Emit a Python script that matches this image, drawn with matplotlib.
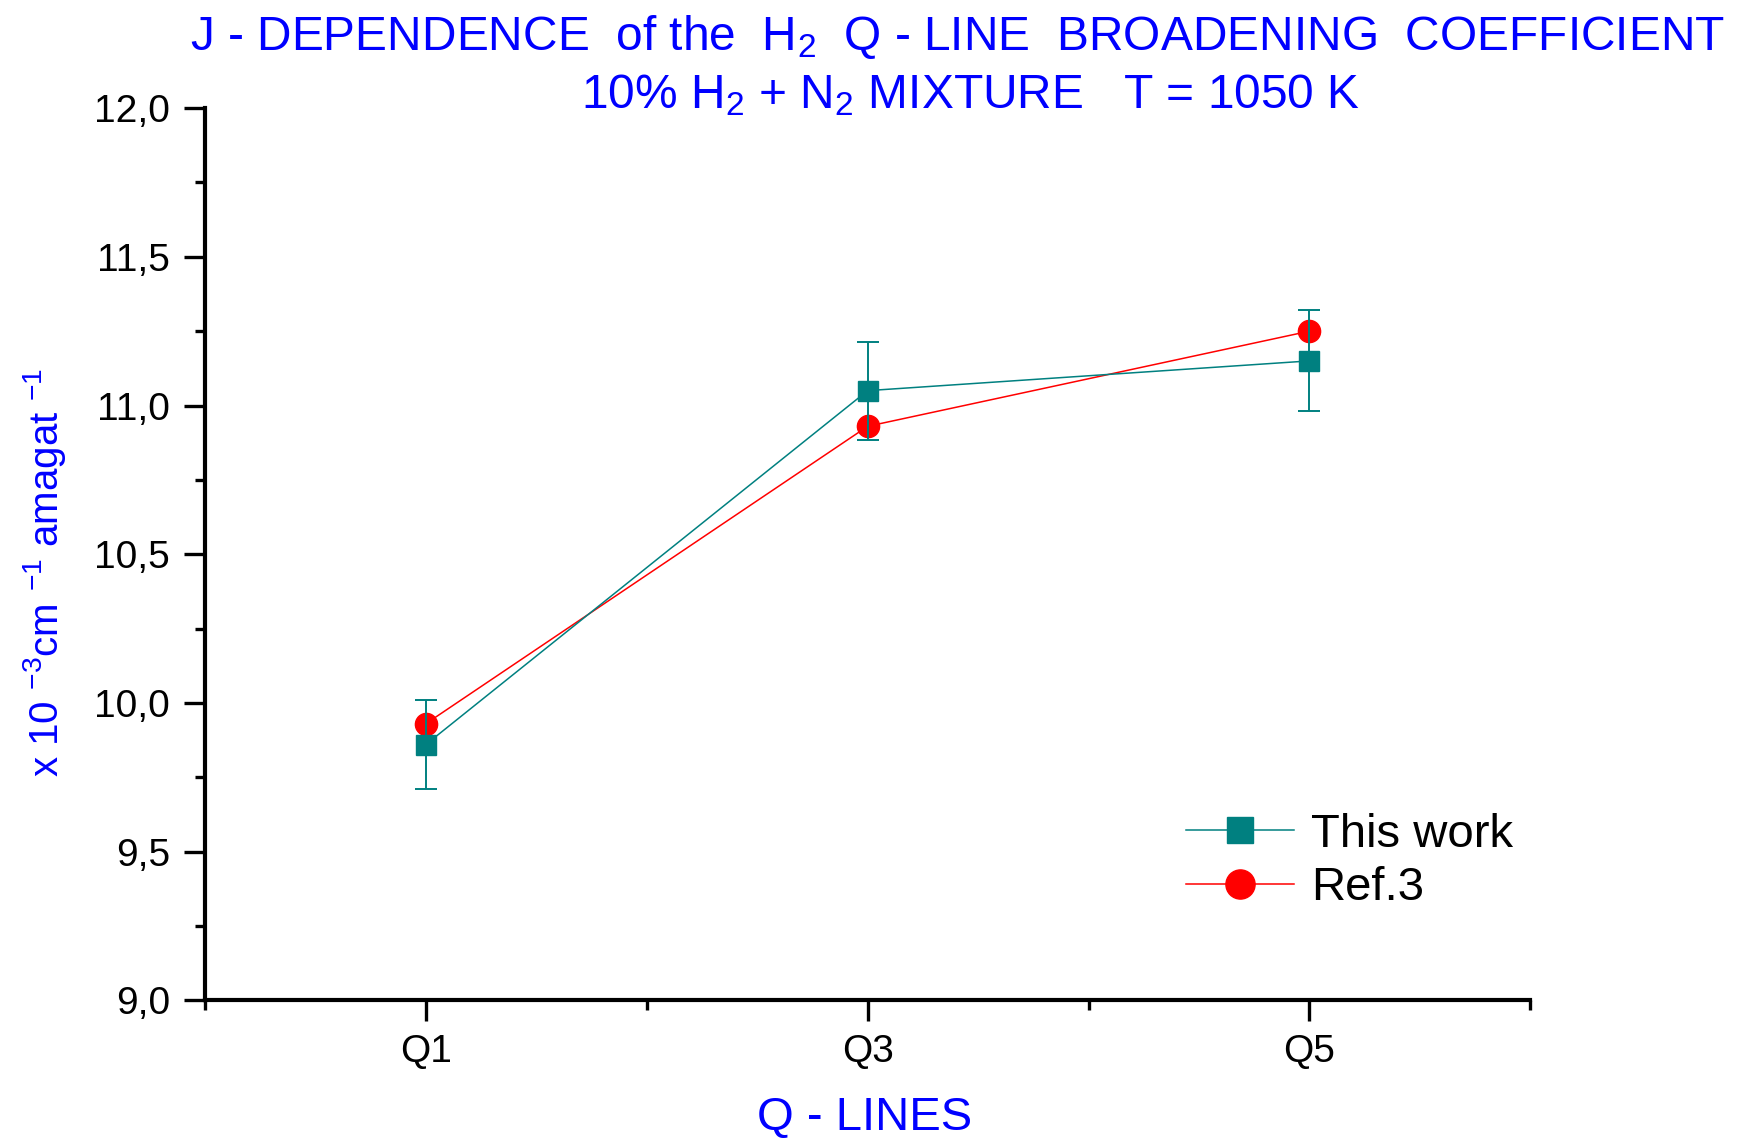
import numpy as np
import matplotlib
matplotlib.use('Agg')
import matplotlib.pyplot as plt
from matplotlib.lines import Line2D
from matplotlib.ticker import FixedLocator, MultipleLocator, FuncFormatter

plt.rcParams['font.family'] = ['Liberation Sans', 'DejaVu Sans']
plt.rcParams['mathtext.fontset'] = 'custom'
plt.rcParams['mathtext.rm'] = 'Liberation Sans'
plt.rcParams['mathtext.it'] = 'Liberation Sans:italic'
plt.rcParams['mathtext.default'] = 'regular'

# Q-line broadening coefficients (x 10^-3 cm^-1 amagat^-1)
lines = ['Q1', 'Q3', 'Q5']
xpos = [1, 3, 5]
this_work = [9.86, 11.05, 11.15]
this_work_err = [0.15, 0.165, 0.17]
ref3 = [9.93, 10.93, 11.25]

blue = '#0000ff'
teal = '#008080'
red = '#ff0000'

fig = plt.figure(figsize=(17.37, 11.38), dpi=100)
ax = fig.add_axes([0.118, 0.121, 0.763, 0.784])

ax.plot(xpos, ref3, '-', color=red, lw=1.1, marker='o', ms=16,
        mec=red, mfc=red, zorder=2)
ax.errorbar(xpos, this_work, yerr=this_work_err, fmt='-s', color=teal,
            lw=1.1, ms=14.5, mec=teal, mfc=teal, ecolor=teal,
            elinewidth=1.4, capsize=8, capthick=1.4, zorder=3)

ax.set_xlim(0, 6)
ax.set_ylim(9.0, 12.0)
ax.xaxis.set_major_locator(FixedLocator(xpos))
ax.set_xticklabels(lines)
ax.xaxis.set_minor_locator(FixedLocator([0, 2, 4, 6]))
ax.yaxis.set_major_locator(MultipleLocator(0.5))
ax.yaxis.set_minor_locator(MultipleLocator(0.25))
ax.yaxis.set_major_formatter(FuncFormatter(lambda v, p: f'{v:.1f}'.replace('.', ',')))

for s in ['top', 'right']:
    ax.spines[s].set_visible(False)
for s in ['left', 'bottom']:
    ax.spines[s].set_linewidth(3)

ax.tick_params(which='major', direction='out', length=15, width=2.4,
               labelsize=28, pad=10)
ax.tick_params(which='minor', direction='out', length=7, width=2.4)
ax.tick_params(axis='x', which='major', pad=9)

ax.set_ylabel(r'x 10 $^{-3}$cm $^{-1}$ amagat $^{-1}$', color=blue,
              fontsize=29, va='center')
ax.yaxis.set_label_coords(-0.121, 0.479)

fig.text(0.498, 0.007, 'Q - LINES', color=blue, fontsize=34,
         ha='center', va='baseline')

fig.text(0.551, 0.956, r'J - DEPENDENCE  of the  H$_2$  Q - LINE  BROADENING  COEFFICIENT',
         color=blue, fontsize=34.5, ha='center', va='baseline')
fig.text(0.559, 0.905, r'10% H$_2$ + N$_2$ MIXTURE   T = 1050 K',
         color=blue, fontsize=34.5, ha='center', va='baseline')

handles = [
    Line2D([], [], color=teal, lw=1.1, marker='s', ms=19, mfc=teal, mec=teal),
    Line2D([], [], color=red, lw=1.1, marker='o', ms=21, mfc=red, mec=red),
]
ax.legend(handles, ['This work', 'Ref.3'],
          loc='upper left', bbox_to_anchor=(0.74, 0.21),
          frameon=False, fontsize=34, handlelength=2.3,
          handletextpad=0.35, labelspacing=0.2,
          borderaxespad=0, borderpad=0)

fig.savefig('out.png', dpi=100)
